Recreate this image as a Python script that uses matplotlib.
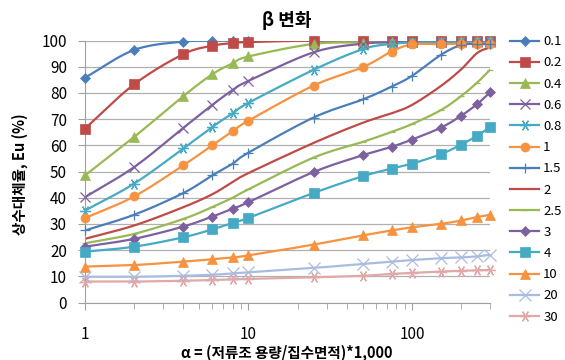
import numpy as np
import matplotlib
matplotlib.use("Agg")
import matplotlib.pyplot as plt
from matplotlib.lines import Line2D

plt.rcParams['font.family'] = ['Noto Sans CJK KR', 'DejaVu Sans']

x = [1, 2, 4, 6, 8, 10, 25, 50, 75, 100, 150, 200, 250, 300]

labels = ["0.1", "0.2", "0.4", "0.6", "0.8", "1", "1.5", "2", "2.5", "3", "4", "10", "20", "30"]

s_01 = [85.8, 96.4, 99.6, 99.9, 100, 100, 100, 100, 100, 100, 100, 100, 100, 100]
s_02 = [66.4, 83.3, 94.8, 98.0, 99.0, 99.4, 100, 100, 100, 100, 100, 100, 100, 100]
s_04 = [48.5, 63.2, 78.8, 87.1, 91.3, 93.9, 98.7, 99.2, 99.4, 99.5, 99.6, 99.7, 99.7, 99.7]
s_06 = [40.2, 51.7, 66.7, 75.4, 81.1, 84.6, 95.5, 98.8, 99.3, 99.5, 99.6, 99.6, 99.6, 99.6]
s_08 = [35.1, 45.4, 58.8, 67.0, 72.2, 76.2, 88.8, 96.7, 98.7, 99.2, 99.3, 99.3, 99.3, 99.3]
s_1 = [32.2, 40.5, 52.4, 60.0, 65.4, 69.4, 82.8, 89.8, 95.8, 98.5, 98.6, 98.8, 98.8, 98.8]
s_15 = [27.5, 33.5, 41.8, 48.5, 53.0, 57.2, 70.6, 77.5, 82.4, 86.5, 94.5, 98.3, 98.6, 98.7]
s_2 = [24.3, 29.4, 36.4, 41.3, 46.0, 49.4, 60.9, 68.6, 72.2, 75.4, 82.6, 89.0, 95.2, 97.4]
s_25 = [22.6, 26.2, 31.9, 36.4, 40.0, 43.2, 55.3, 61.3, 65.1, 68.1, 73.4, 78.8, 83.9, 88.8]
s_3 = [21.3, 24.3, 29.0, 32.8, 35.8, 38.3, 49.8, 56.2, 59.4, 62.2, 66.7, 71.3, 75.7, 80.2]
s_4 = [19.4, 21.3, 24.9, 27.9, 30.4, 32.3, 41.8, 48.2, 51.1, 53.0, 56.6, 60.3, 63.6, 67.0]
s_10 = [13.7, 14.3, 15.6, 16.5, 17.2, 18.0, 22.1, 25.6, 27.5, 28.7, 30.0, 31.3, 32.6, 33.5]
s_20 = [9.8, 9.8, 10.2, 10.6, 11.1, 11.5, 13.2, 14.7, 15.6, 16.2, 16.9, 17.2, 17.6, 18.2]
s_30 = [8.0, 8.0, 8.3, 8.6, 8.8, 9.0, 9.6, 10.2, 10.9, 11.3, 11.8, 12.1, 12.3, 12.4]

series = [s_01, s_02, s_04, s_06, s_08, s_1, s_15, s_2, s_25, s_3, s_4, s_10, s_20, s_30]

colors = ['#4A7EBB', '#BE4B48', '#98B954', '#7D60A0', '#46AAC5', '#F69240',
          '#4A7EBB', '#BE4B48', '#98B954', '#7D60A0', '#46AAC5', '#F69240',
          '#A9BCE0', '#E0A8A6']
ast = (6, 2, 90)
markers = ['D', 's', '^', 'x', ast, 'o', '+', None, '_', 'D', 's', '^', 'x', ast]
msizes = [5, 6.5, 6.5, 7, 8, 6.5, 7, 0, 4, 5, 6.5, 6.5, 8, 8]


def smooth(xs, ys, n=20):
    lx = np.log10(np.asarray(xs, float))
    yy = np.asarray(ys, float)
    P = np.column_stack([lx, yy])
    P = np.vstack([P[0] - (P[1] - P[0]), P, P[-1] + (P[-1] - P[-2])])
    out = []
    for i in range(1, len(P) - 2):
        p0, p1, p2, p3 = P[i - 1], P[i], P[i + 1], P[i + 2]
        t = np.linspace(0, 1, n, endpoint=False)[:, None]
        c = 0.5 * ((2 * p1) + (-p0 + p2) * t + (2 * p0 - 5 * p1 + 4 * p2 - p3) * t ** 2
                   + (-p0 + 3 * p1 - 3 * p2 + p3) * t ** 3)
        out.append(c)
    out.append(P[-2][None, :])
    out = np.vstack(out)
    return 10 ** out[:, 0], out[:, 1]


fig = plt.figure(figsize=(5.65, 3.6), dpi=100)
ax = fig.add_axes([85 / 565, 1 - 302.5 / 360, 405 / 565, 262 / 360])

handles = []
for ys, c, m, ms, lab in zip(series, colors, markers, msizes, labels):
    sx, sy = smooth(x, ys)
    ax.plot(sx, sy, color=c, lw=1.6, zorder=2)
    thin = m in ('x', '+', '_') or isinstance(m, tuple)
    if m is not None:
        ax.plot(x, ys, ls='none', marker=m, ms=ms, color=c, mec=c,
                mew=0.9 if thin else 0.5, zorder=3, clip_on=False)
    handles.append(Line2D([0], [0], color=c, lw=1.6, marker=m if m else None,
                          ms=ms, mew=0.9 if thin else 0.5, label=lab))

ax.set_xscale('log')
ax.set_xlim(1, 300)
ax.set_ylim(0, 100)
ax.set_yticks(range(0, 101, 10))
ax.yaxis.grid(True, color='#B0B0B0', lw=0.9)
ax.set_axisbelow(True)
for sp in ['top', 'right']:
    ax.spines[sp].set_visible(False)
for sp in ['left', 'bottom']:
    ax.spines[sp].set_color('#A0A0A0')
ax.set_xticks([1, 10, 100])
ax.set_xticklabels(['1', '10', '100'])
ax.tick_params(axis='x', which='major', length=5, color='#A0A0A0', pad=12, labelsize=11)
ax.tick_params(axis='x', which='minor', length=4, color='#A0A0A0')
ax.tick_params(axis='y', length=5, color='#A0A0A0', pad=8, labelsize=11)

fig.text(287 / 565, 1 - 20 / 360, 'β 변화', ha='center', va='center',
         fontsize=13, fontweight='bold')
fig.text(287 / 565, 1 - 353 / 360, 'α = (저류조 용량/집수면적)*1,000', ha='center',
         va='center', fontsize=10.5, fontweight='bold')
fig.text(20 / 565, 1 - 174 / 360, '상수대체율, Eu (%)', ha='center', va='center',
         rotation=90, fontsize=10.5, fontweight='bold')

fig.legend(handles=handles, loc='upper left', bbox_to_anchor=(505 / 565, 1 - 30 / 360),
           frameon=False, fontsize=9.5, handlelength=2.2, labelspacing=0.62,
           handletextpad=0.3, borderaxespad=0)

fig.savefig('out.png', dpi=100)
